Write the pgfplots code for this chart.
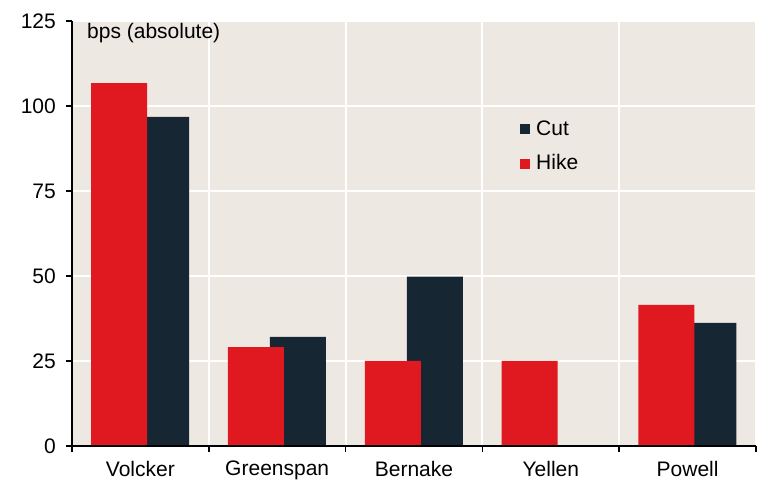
\documentclass[border=0pt]{standalone}
\usepackage{pgfplots}
\pgfplotsset{compat=1.18}
\usepackage{fontspec}
\setmainfont{Liberation Sans}
\definecolor{bg}{HTML}{EEE8E2}
\definecolor{hike}{HTML}{E0181F}
\definecolor{cut}{HTML}{172633}
\newcommand{\chartfont}{\fontsize{21}{25}\selectfont}
\begin{document}
\chartfont
\begin{tikzpicture}
\path[use as bounding box] (0,0) rectangle (761pt,482pt);
\begin{axis}[
  at={(72pt,36pt)}, anchor=south west,
  scale only axis, width=684pt, height=425pt,
  xmin=0, xmax=5, ymin=0, ymax=125,
  axis lines*=left,
  axis line style={black, line width=1.6pt},
  axis background/.style={fill=bg},
  /pgf/number format/assume math mode=true,
  ytick={0,25,...,125},
  xtick={0,1,2,3,4,5}, xticklabels={},
  xmajorgrids, ymajorgrids,
  grid style={white, line width=2pt},
  major grid style={white, line width=2pt},
  tick align=outside,
  major tick length=6pt,
  tick style={black, line width=1.6pt},
  yticklabel style={font=\chartfont, xshift=-3pt},
  extra x ticks={0.5,1.5,2.5,3.5,4.5},
  extra x tick labels={Volcker,Greenspan,Bernake,Yellen,Powell},
  extra x tick style={major tick length=0pt, grid=none,
     xticklabel style={font=\chartfont, yshift=-8pt}},
  legend style={draw=none, fill=none, at={(0.655,0.771)}, anchor=north west,
     inner sep=0pt, row sep=12pt, font=\chartfont,
     legend cell align=left},
  legend image code/.code={\fill[#1] (0pt,-5pt) rectangle (10pt,5pt); \path (14pt,0pt);},
  clip=false,
]
\addplot[ybar, bar width=56pt, bar shift=0pt, fill=cut, draw=none]
  coordinates {(0.652,96.8) (1.652,32.1) (2.652,49.8) (4.652,36.2)};
\addlegendentry{Cut}
\addplot[ybar, bar width=56pt, bar shift=0pt, fill=hike, draw=none]
  coordinates {(0.345,106.7) (1.345,29.1) (2.345,25) (3.345,25) (4.345,41.5)};
\addlegendentry{Hike}
\draw[black, line width=1.6pt] (rel axis cs:0,0) -- (rel axis cs:1,0);
\node[anchor=north west, inner sep=0pt, font=\chartfont]
  at ([xshift=15pt,yshift=-2pt]rel axis cs:0,1) {bps (absolute)};
\end{axis}
\end{tikzpicture}
\end{document}
